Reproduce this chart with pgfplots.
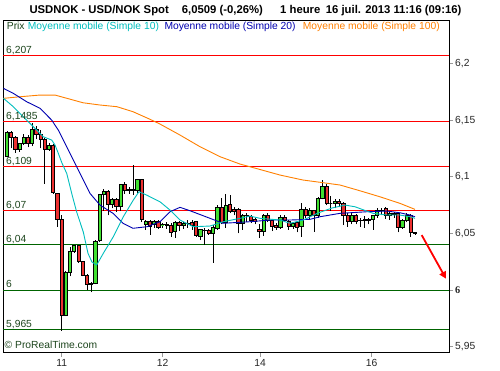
\documentclass[border=0pt]{standalone}
\usepackage{pgfplots}
\pgfplotsset{compat=1.18}
\usepackage{pgfplotstable}
\usepackage{fontspec}
\setmainfont{Liberation Sans}
\newfontfamily\tnr{Liberation Serif}
\usetikzlibrary{arrows.meta}
\definecolor{candup}{RGB}{64,224,48}
\definecolor{candown}{RGB}{236,48,48}
\definecolor{macyan}{RGB}{0,190,190}
\definecolor{mablue}{RGB}{0,0,176}
\definecolor{maorange}{RGB}{255,128,0}
\definecolor{lvgreen}{RGB}{0,100,0}
\definecolor{lvtext}{RGB}{30,70,30}
\definecolor{lvred}{RGB}{255,0,0}

\pgfplotstableread{
O H L C
6.118 6.140 6.117 6.139
6.139 6.140 6.125 6.135
6.135 6.136 6.121 6.124
6.124 6.130 6.122 6.129
6.129 6.138 6.128 6.135
6.135 6.137 6.126 6.129
6.129 6.147 6.127 6.142
6.142 6.145 6.133 6.137
6.137 6.141 6.125 6.133
6.133 6.134 6.094 6.124
6.124 6.130 6.123 6.128
6.128 6.129 6.085 6.086
6.085 6.086 6.056 6.062
6.062 6.066 5.964 5.978
5.978 6.017 5.977 6.016
6.016 6.038 6.012 6.034
6.034 6.040 6.033 6.039
6.039 6.040 6.024 6.025
6.025 6.026 6.012 6.013
6.013 6.014 6.000 6.005
6.005 6.007 5.998 6.0055
6.006 6.044 6.005 6.043
6.0435 6.085 6.042 6.084
6.084 6.089 6.070 6.087
6.087 6.088 6.066 6.076
6.076 6.081 6.072 6.080
6.080 6.081 6.069 6.0735
6.0735 6.094 6.070 6.0935
6.0935 6.095 6.085 6.088
6.088 6.091 6.085 6.0885
6.089 6.110 6.084 6.088
6.088 6.098 6.086 6.0975
6.0975 6.098 6.060 6.062
6.0575 6.062 6.053 6.061
6.061 6.062 6.049 6.056
6.0575 6.062 6.055 6.061
6.061 6.062 6.054 6.055
6.0575 6.059 6.055 6.0578
6.0575 6.060 6.054 6.057
6.0574 6.059 6.047 6.0506
6.0515 6.061 6.046 6.0597
6.0597 6.061 6.052 6.0568
6.0568 6.060 6.054 6.059
6.059 6.062 6.055 6.0585
6.0597 6.062 6.053 6.0568
6.0603 6.061 6.047 6.0485
6.0477 6.054 6.044 6.0535
6.053 6.055 6.040 6.0528
6.0523 6.054 6.049 6.050
6.0497 6.057 6.024 6.0556
6.0544 6.075 6.053 6.073
6.073 6.081 6.058 6.0594
6.0594 6.085 6.055 6.075
6.0759 6.084 6.068 6.069
6.0712 6.073 6.066 6.069
6.0712 6.072 6.050 6.0588
6.0588 6.067 6.053 6.066
6.066 6.068 6.060 6.0662
6.0647 6.066 6.059 6.0612
6.0624 6.064 6.058 6.0603
6.0535 6.058 6.046 6.0515
6.0515 6.067 6.048 6.0656
6.0656 6.068 6.060 6.0618
6.0618 6.063 6.052 6.0559
6.0574 6.059 6.053 6.0553
6.0553 6.066 6.054 6.0641
6.0641 6.066 6.060 6.0618
6.0603 6.062 6.053 6.0559
6.0559 6.060 6.054 6.0588
6.0594 6.060 6.051 6.0553
6.0559 6.077 6.047 6.0712
6.0712 6.073 6.064 6.0656
6.0656 6.072 6.063 6.070
6.070 6.071 6.0515 6.0656
6.0656 6.082 6.064 6.081
6.081 6.097 6.080 6.0912
6.0912 6.094 6.075 6.0765
6.0768 6.083 6.070 6.0768
6.0765 6.080 6.072 6.0785
6.0785 6.080 6.073 6.0765
6.0765 6.078 6.0574 6.0662
6.0662 6.068 6.056 6.0603
6.0603 6.068 6.058 6.0662
6.0662 6.067 6.058 6.0603
6.0618 6.064 6.056 6.0615
6.062 6.065 6.055 6.0618
6.0618 6.064 6.058 6.062
6.0624 6.066 6.053 6.0656
6.0656 6.072 6.064 6.0706
6.0706 6.072 6.066 6.0703
6.0721 6.073 6.063 6.0656
6.0656 6.069 6.062 6.068
6.068 6.069 6.064 6.0665
6.0677 6.069 6.051 6.0553
6.0553 6.063 6.054 6.0618
6.0618 6.068 6.060 6.0656
6.0656 6.067 6.047 6.0509
6.0509 6.051 6.049 6.0500
}\candles

\begin{document}
\begin{tikzpicture}[x=1pt,y=1pt]
\useasboundingbox (0,0) rectangle (500,370);
\begin{axis}[
  at={(3pt,17.3pt)}, anchor=south west,
  scale only axis, width=446pt, height=332.2pt,
  xmin=3, xmax=449, ymin=5.9447, ymax=6.2379,
  axis line style={black, line width=0.8pt},
  tick align=outside, major tick length=4pt,
  xtick pos=bottom, ytick pos=right, yticklabel pos=right,
  xtick={61.7,162.7,260,371.7}, xticklabels={11,12,14,16},
  ytick={5.95,6,6.05,6.1,6.15,6.2},
  yticklabels={{5,95},{\tnr\bfseries 6},{6,05},{6,1},{6,15},{6,2}},
  minor tick num=0,
  tick style={gray!80, line width=0.8pt},
  ticklabel style={font=\fontsize{10.3}{12}\selectfont, text=black!85},
  /pgf/number format/assume math mode=true,
  yticklabel style={anchor=west, inner sep=0pt, xshift=2pt},
  xticklabel style={anchor=base, inner sep=0pt, yshift=-10pt},
  axis background/.style={fill=white},
]
% support and resistance levels
\addplot[lvred, line width=1pt] coordinates {(3,6.207) (449,6.207)};
\addplot[lvred, line width=1pt] coordinates {(3,6.1485) (449,6.1485)};
\addplot[lvred, line width=1pt] coordinates {(3,6.109) (449,6.109)};
\addplot[lvred, line width=1pt] coordinates {(3,6.07) (449,6.07)};
\addplot[lvgreen, line width=1pt] coordinates {(3,6.04) (449,6.04)};
\addplot[lvgreen, line width=1pt] coordinates {(3,6) (449,6)};
\addplot[lvgreen, line width=1pt] coordinates {(3,5.965) (449,5.965)};

% candlesticks
\pgfplotstablegetrowsof{\candles}
\pgfmathtruncatemacro{\lastrow}{\pgfplotsretval-1}
\pgfplotsforeachungrouped \i in {0,...,\lastrow}{%
  \pgfplotstablegetelem{\i}{O}\of\candles \let\cO\pgfplotsretval
  \pgfplotstablegetelem{\i}{H}\of\candles \let\cH\pgfplotsretval
  \pgfplotstablegetelem{\i}{L}\of\candles \let\cL\pgfplotsretval
  \pgfplotstablegetelem{\i}{C}\of\candles \let\cC\pgfplotsretval
  \pgfmathsetmacro{\xm}{7+4.206*\i}%
  \pgfmathsetmacro{\xa}{\xm-1.6}%
  \pgfmathsetmacro{\xb}{\xm+1.6}%
  \ifdim\cC pt<\cO pt \def\fc{candown}\else\def\fc{candup}\fi
  \edef\temp{\noexpand\draw[black,line width=0.8pt] (axis cs:\xm,\cL) -- (axis cs:\xm,\cH);
    \noexpand\draw[black,line width=0.8pt,fill=\fc] (axis cs:\xa,\cO) rectangle (axis cs:\xb,\cC);}%
  \temp
}

% moving averages
\addplot[maorange, line width=0.9pt] coordinates {
(3.5,6.1692) (20,6.1706) (40,6.1721) (55,6.1721) (67,6.1692) (83,6.1653) (100,6.1633) (117,6.1618) (133,6.1574) (150,6.1507) (160,6.1465) (180,6.1368) (200,6.1265) (220,6.1177) (240,6.1112) (250,6.1088) (262,6.1059) (280,6.1015) (303,6.0971) (320,6.0951) (340,6.0927) (360,6.0876) (380,6.0823) (400,6.0765) (415,6.0712)};
\addplot[mablue, line width=0.9pt] coordinates {
(3.5,6.1780) (13.3,6.1736) (26.7,6.1662) (40,6.1604) (51.7,6.1500) (58.3,6.1412) (66.7,6.1265) (75,6.1118) (83.3,6.0971) (90,6.0853) (100,6.0750) (113,6.0677) (123,6.0589) (133,6.0545) (147,6.0559) (160,6.0603) (170,6.0691) (180,6.0730) (190,6.0700) (210,6.0633) (223,6.0589) (250,6.0603) (270,6.0618) (290,6.0618) (310,6.0624) (320,6.0647) (340,6.0677) (367,6.0691) (387,6.0697) (400,6.0682) (410,6.0662) (415,6.0647)};
\addplot[macyan, line width=0.9pt] coordinates {
(3.5,6.1692) (13.3,6.1618) (26.7,6.1500) (36.7,6.1412) (43.3,6.1353) (51.7,6.1324) (55,6.1280) (58.3,6.1207) (62,6.1120) (66.7,6.1030) (71.7,6.0853) (76.7,6.0688) (83.3,6.0512) (88,6.0324) (92,6.0247) (96.7,6.0221) (103.3,6.0324) (113.3,6.0470) (123.3,6.0647) (133.3,6.0794) (139,6.0868) (146.7,6.0838) (160,6.0779) (170,6.0706) (180,6.0618) (193.3,6.0559) (210,6.0565) (223.3,6.0603) (240,6.0633) (250,6.0653) (260,6.0633) (280,6.0618) (290,6.0589) (303.3,6.0618) (318,6.0680) (332,6.0724) (345,6.0750) (355,6.0735) (373,6.0677) (387,6.0662) (400,6.0662) (410,6.0647) (415,6.0633)};

% forecast arrow
\addplot[lvred, line width=1.8pt, -{Triangle[length=7pt,width=7pt]}] coordinates {(421.7,6.0485) (446,6.0100)};

% level labels
\begin{scope}[every node/.style={anchor=base west, inner sep=0pt, text=lvtext, font=\fontsize{10.3}{12}\selectfont}]
\node[yshift=2.2pt] at (axis cs:6,6.207) {6,207};
\node[yshift=2.2pt] at (axis cs:6,6.1485) {6,1485};
\node[yshift=2.2pt] at (axis cs:6,6.109) {6,109};
\node[yshift=2.2pt] at (axis cs:6,6.07) {6,07};
\node[yshift=2.2pt] at (axis cs:6,6.04) {6,04};
\node[yshift=2.2pt] at (axis cs:6,6) {6};
\node[yshift=2.2pt] at (axis cs:6,5.965) {5,965};
\end{scope}
\end{axis}

% title
\begin{scope}[every node/.style={anchor=base west, inner sep=0pt, font=\fontsize{11.3}{13}\selectfont\bfseries}]
\node at (29.3,356.7) {USDNOK - USD/NOK Spot};
\node at (181.7,356.7) {6,0509 (-0,26\%)};
\node at (280,356.7) {1 heure};
\node at (325.7,356.7) {16 juil. 2013 11:16 (09:16)};
\end{scope}
% legend
\begin{scope}[every node/.style={anchor=base west, inner sep=0pt, font=\fontsize{10.3}{12}\selectfont}]
\node[text=lvtext] at (6.7,340.7) {Prix};
\node[text=macyan] at (27.7,340.7) {Moyenne mobile (Simple 10)};
\node[text=mablue] at (164.3,340.7) {Moyenne mobile (Simple 20)};
\node[text=maorange] at (302.7,340.7) {Moyenne mobile (Simple 100)};
\node[text=lvtext] at (4.5,21.5) {\textcopyright\ ProRealTime.com};
\end{scope}
\end{tikzpicture}
\end{document}
